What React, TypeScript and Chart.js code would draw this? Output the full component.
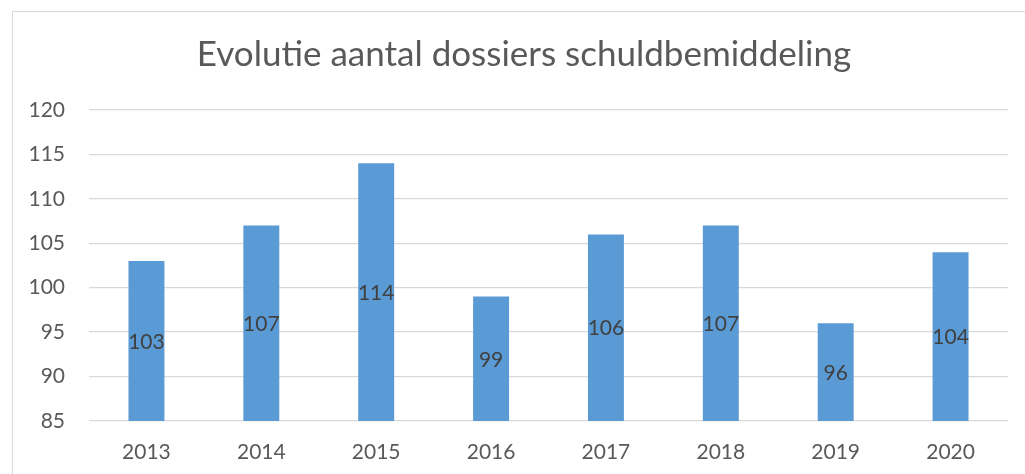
import React, { useEffect, useRef } from "react";
import { Chart, registerables } from "chart.js";

Chart.register(...registerables);

const titleText = "Evolutie aantal dossiers schuldbemiddeling";
const years = ["2013", "2014", "2015", "2016", "2017", "2018", "2019", "2020"];
const dossiers = [103, 107, 114, 99, 106, 107, 96, 104];
const yMin = 85;
const yMax = 120;
const yStep = 5;

const FONT = "Lato, 'Open Sans', sans-serif";

const overlayPlugin = {
  id: "overlayText",
  afterDraw(chart: any) {
    const ctx = chart.ctx;
    ctx.save();
    ctx.font = `normal 35px ${FONT}`;
    ctx.fillStyle = "#595959";
    ctx.textAlign = "center";
    ctx.textBaseline = "alphabetic";
    ctx.fillText(titleText, chart.width / 2, 55);

    const meta = chart.getDatasetMeta(0);
    const bottom = chart.scales.y.getPixelForValue(yMin);
    ctx.font = `normal 21px ${FONT}`;
    ctx.fillStyle = "#404040";
    ctx.textAlign = "center";
    ctx.textBaseline = "middle";
    for (let i = 0; i < meta.data.length; i++) {
      const bar: any = meta.data[i];
      const base = Math.min(bar.base, bottom);
      ctx.fillText(String(dossiers[i]), bar.x, (bar.y + base) / 2 + 1);
    }
    ctx.restore();
  },
};

export default function App() {
  const ref = useRef<HTMLCanvasElement>(null);
  useEffect(() => {
    if (!ref.current) return;
    const chart = new Chart(ref.current, {
      type: "bar",
      data: {
        labels: years,
        datasets: [
          {
            data: dossiers,
            backgroundColor: "#5b9bd5",
            borderWidth: 0,
            categoryPercentage: 1,
            barPercentage: 0.313,
          },
        ],
      },
      options: {
        responsive: false,
        animation: false,
        maintainAspectRatio: false,
        layout: { padding: { top: 99, left: 0, right: 28, bottom: 0 } },
        plugins: {
          legend: { display: false },
          title: { display: false },
          tooltip: { enabled: false },
        },
        scales: {
          x: {
            grid: { display: false, drawTicks: false },
            border: { display: false },
            ticks: {
              color: "#595959",
              font: { family: FONT, size: 21 },
              padding: 19,
              maxRotation: 0,
            },
            afterFit(scale: any) {
              scale.height = 53;
            },
          },
          y: {
            min: yMin,
            max: yMax,
            grid: { color: "#d9d9d9", lineWidth: 1.3, drawTicks: false },
            border: { display: false },
            ticks: {
              stepSize: yStep,
              color: "#595959",
              font: { family: FONT, size: 21 },
              padding: 24,
            },
            afterFit(scale: any) {
              scale.width = 77;
            },
          },
        },
      },
      plugins: [overlayPlugin],
    });
    return () => chart.destroy();
  }, []);

  return (
    <div
      style={{
        position: "fixed",
        left: 0,
        top: 0,
        width: 1025,
        height: 474,
        overflow: "hidden",
        background: "#ffffff",
      }}
    >
      <div
        style={{
          position: "absolute",
          left: 12,
          top: 11,
          width: 1100,
          height: 600,
          borderLeft: "1.5px solid #d9d9d9",
          borderTop: "1.5px solid #d9d9d9",
        }}
      />
      <canvas
        ref={ref}
        width={1024}
        height={463}
        style={{ position: "absolute", left: 12, top: 11, width: 1024, height: 463 }}
      />
    </div>
  );
}
